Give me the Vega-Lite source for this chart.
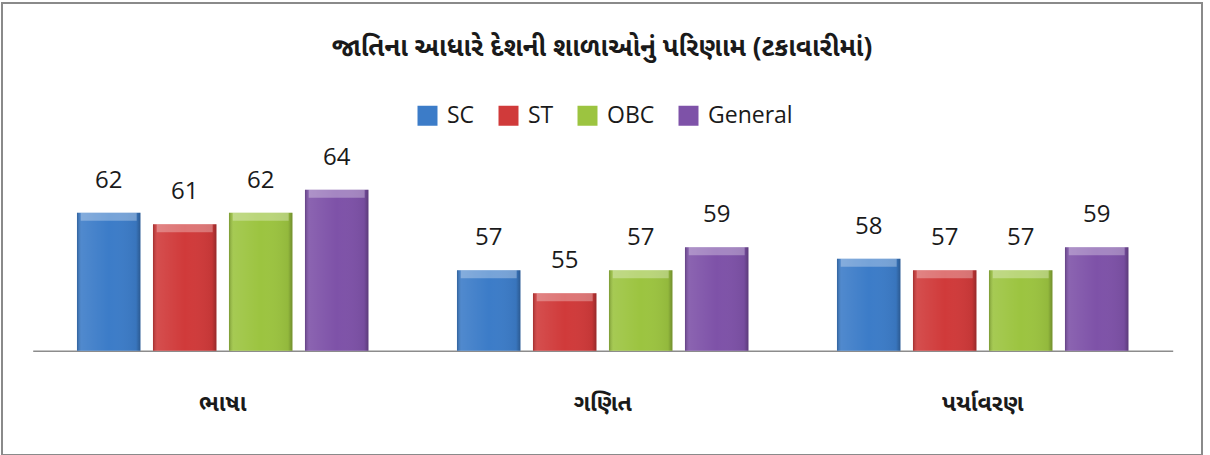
{
  "$schema": "https://vega.github.io/schema/vega-lite/v6.json",
  "width": 1200,
  "height": 452,
  "autosize": {"type": "none"},
  "padding": {"left": 2, "top": 3, "right": 8, "bottom": 0},
  "background": "white",
  "config": {
    "view": {"stroke": "#8a8a8a", "strokeWidth": 2},
    "font": "Open Sans"
  },
  "title": {
    "text": "જાતિના આધારે દેશની શાળાઓનું પરિણામ (ટકાવારીમાં)",
    "font": "Noto Sans Gujarati, Noto Sans, sans-serif",
    "fontSize": 26,
    "fontWeight": "bold",
    "color": "#1a1a1a",
    "anchor": "middle",
    "offset": -58
  },
  "data": {
    "values": [
      {"subject": "ભાષા", "category": "SC", "value": 62},
      {"subject": "ભાષા", "category": "ST", "value": 61},
      {"subject": "ભાષા", "category": "OBC", "value": 62},
      {"subject": "ભાષા", "category": "General", "value": 64},
      {"subject": "ગણિત", "category": "SC", "value": 57},
      {"subject": "ગણિત", "category": "ST", "value": 55},
      {"subject": "ગણિત", "category": "OBC", "value": 57},
      {"subject": "ગણિત", "category": "General", "value": 59},
      {"subject": "પર્યાવરણ", "category": "SC", "value": 58},
      {"subject": "પર્યાવરણ", "category": "ST", "value": 57},
      {"subject": "પર્યાવરણ", "category": "OBC", "value": 57},
      {"subject": "પર્યાવરણ", "category": "General", "value": 59}
    ]
  },
  "encoding": {
    "x": {
      "field": "subject",
      "type": "nominal",
      "sort": ["ભાષા", "ગણિત", "પર્યાવરણ"],
      "scale": {"range": [30.7, 1170.7], "paddingInner": 0, "paddingOuter": 0},
      "axis": {
        "orient": "bottom",
        "offset": -104.3,
        "title": null,
        "ticks": false,
        "domainColor": "#8c8c8c",
        "domainWidth": 1.5,
        "labelAngle": 0,
        "labelFont": "Noto Sans Gujarati, Noto Sans, sans-serif",
        "labelFontSize": 23,
        "labelFontWeight": "bold",
        "labelColor": "#1a1a1a",
        "labelPadding": 42
      }
    },
    "xOffset": {
      "field": "category",
      "type": "nominal",
      "sort": ["SC", "ST", "OBC", "General"],
      "scale": {"paddingInner": 0.165, "paddingOuter": 0.5825}
    },
    "y": {
      "field": "value",
      "type": "quantitative",
      "scale": {"domain": [50, 68], "range": [347.7, 140.7], "nice": false, "zero": false},
      "axis": null
    }
  },
  "layer": [
    {
      "mark": {"type": "bar"},
      "encoding": {
        "y2": {"datum": 50},
        "color": {
          "field": "category",
          "type": "nominal",
          "sort": ["SC", "ST", "OBC", "General"],
          "scale": {
            "domain": ["SC", "ST", "OBC", "General"],
            "range": ["#3C7CC8", "#D03A3A", "#9CC440", "#7E52A8"]
          },
          "legend": {
            "orient": "none",
            "legendX": 414,
            "legendY": 101,
            "direction": "horizontal",
            "title": null,
            "symbolType": "square",
            "symbolSize": 400,
            "symbolStrokeWidth": 0,
            "labelFont": "Open Sans",
            "labelFontSize": 23,
            "labelColor": "#1a1a1a",
            "labelOffset": 8,
            "columnPadding": 22
          }
        }
      }
    },
    {
      "mark": {
        "type": "bar",
        "fill": {
          "gradient": "linear",
          "x1": 0, "y1": 0, "x2": 1, "y2": 0,
          "stops": [
            {"offset": 0, "color": "rgba(0,0,0,0.22)"},
            {"offset": 0.07, "color": "rgba(255,255,255,0.10)"},
            {"offset": 0.5, "color": "rgba(255,255,255,0.0)"},
            {"offset": 0.93, "color": "rgba(0,0,0,0.06)"},
            {"offset": 1, "color": "rgba(0,0,0,0.28)"}
          ]
        }
      },
      "encoding": {"y2": {"datum": 50}}
    },
    {
      "mark": {"type": "tick", "color": "white", "opacity": 0.3, "thickness": 8, "size": 56, "yOffset": 4},
      "encoding": {}
    },
    {
      "mark": {"type": "text", "baseline": "alphabetic", "dy": -25, "font": "Open Sans", "fontSize": 24, "color": "#1a1a1a"},
      "encoding": {"text": {"field": "value", "type": "quantitative"}}
    }
  ]
}
